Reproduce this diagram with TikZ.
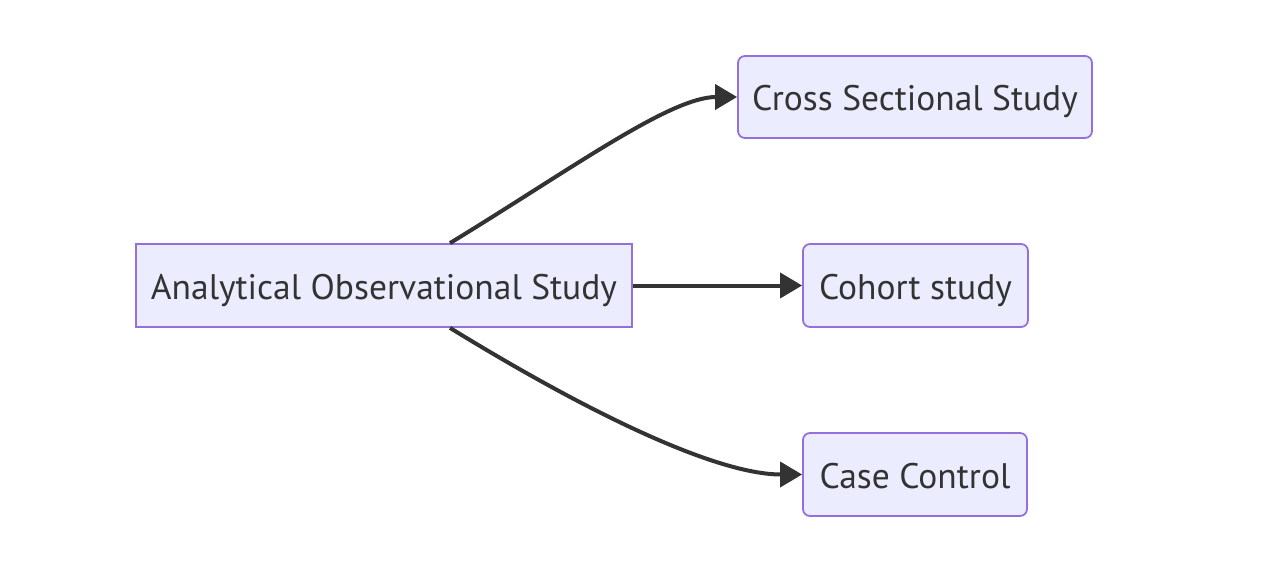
\documentclass[tikz,border=0pt]{standalone}
\usepackage{fontspec}
\setmainfont{PT Sans}
\usetikzlibrary{arrows.meta,calc}
\definecolor{mfill}{HTML}{ECECFF}
\definecolor{mline}{HTML}{9370DB}
\definecolor{mtext}{HTML}{333333}
\definecolor{medge}{HTML}{333333}
\tikzset{
  box/.style={draw=mline, fill=mfill, line width=1.8pt, text=mtext, inner sep=0pt,
    text height=30pt, text depth=3pt,
    font=\fontsize{35.5}{42}\selectfont, anchor=center},
  rbox/.style={box, rounded corners=7pt},
  link/.style={draw=medge, line width=4pt, -{Triangle[length=22pt,width=25pt]}},
}
\begin{document}
\begin{tikzpicture}[x=1pt,y=-1pt]
\useasboundingbox (0,0) rectangle (1266,586);
\node[box, minimum width=496pt, minimum height=83pt] (a) at (384,285.5) {Analytical Observational Study};
\node[rbox, minimum width=354pt, minimum height=82pt] (b) at (915,97) {Cross Sectional Study};
\node[rbox, minimum width=225pt, minimum height=83pt] (c) at (915.5,285.5) {Cohort study};
\node[rbox, minimum width=224pt, minimum height=83pt] (d) at (915,474.5) {Case Control};
\draw[link] ([xshift=66pt]a.north) .. controls (570,170) and (670,97) .. (b.west);
\draw[link] (a.east) -- (c.west);
\draw[link] ([xshift=66pt]a.south) .. controls (600,420) and (720,474.5) .. (d.west);
\end{tikzpicture}
\end{document}
